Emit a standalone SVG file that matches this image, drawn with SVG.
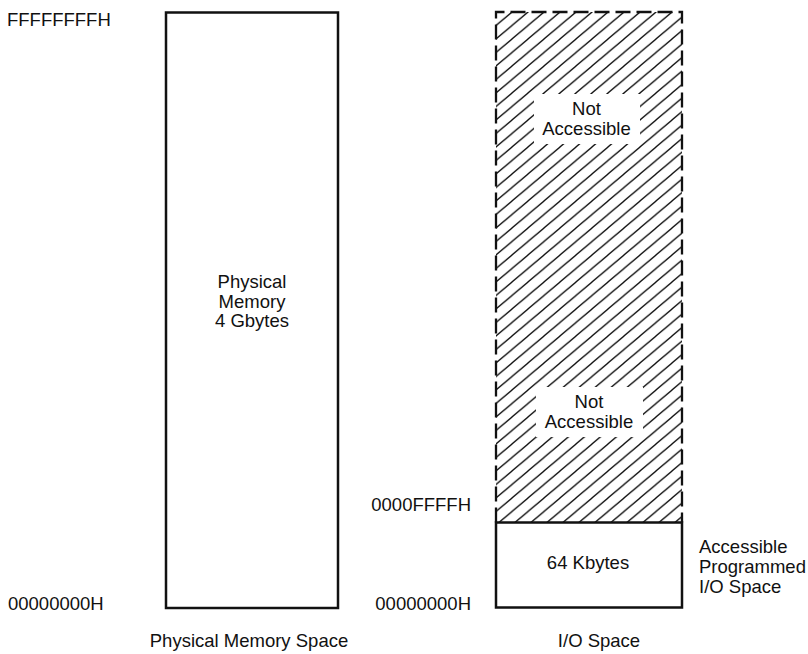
<svg xmlns="http://www.w3.org/2000/svg" width="808" height="654" viewBox="0 0 808 654">
<defs>
<pattern id="hatch" patternUnits="userSpaceOnUse" x="496" y="12" width="16" height="13.5">
<path d="M0,13.5 L16,0 M-4,3.375 L4,-3.375 M12,16.875 L20,10.125" stroke="#111" stroke-width="1.3" fill="none"/>
</pattern>
</defs>
<style>
text{font-family:"Liberation Sans",Arial,Helvetica,sans-serif;font-size:18.5px;fill:#111}
.c{text-anchor:middle}
.e{text-anchor:end}
.box{fill:#fff;stroke:#111;stroke-width:2.5}
.dash{fill:none;stroke:#111;stroke-width:2.3;stroke-dasharray:15 6}
</style>
<rect width="808" height="654" fill="#fff"/>
<g id="address-labels">
<text x="7" y="26">FFFFFFFFH</text>
<text x="8" y="610">00000000H</text>
<text class="e" x="471" y="511">0000FFFFH</text>
<text class="e" x="471" y="610">00000000H</text>
</g>
<g id="physical-memory">
<rect class="box" x="166" y="12.5" width="172" height="595.5"/>
<text class="c" x="252" y="288">Physical</text>
<text class="c" x="252" y="307.5">Memory</text>
<text class="c" x="252" y="327">4 Gbytes</text>
</g>
<g id="not-accessible">
<rect x="496" y="12" width="186" height="510.5" fill="url(#hatch)"/>
<rect x="534" y="94" width="106" height="50" fill="#fff"/>
<rect x="536" y="387" width="107" height="50" fill="#fff"/>
<path class="dash" d="M496,522.5 V12 H682 V522.5"/>
<text class="c" x="586.5" y="115">Not</text>
<text class="c" x="586.5" y="135">Accessible</text>
<text class="c" x="589" y="408">Not</text>
<text class="c" x="589" y="428">Accessible</text>
</g>
<g id="io-accessible">
<rect class="box" x="496" y="522.5" width="186" height="85"/>
<text class="c" x="588" y="569">64 Kbytes</text>
</g>
<g id="io-label">
<text x="699" y="553">Accessible</text>
<text x="699" y="573">Programmed</text>
<text x="699" y="593">I/O Space</text>
</g>
<g id="captions">
<text class="c" x="249" y="647">Physical Memory Space</text>
<text class="c" x="599" y="647">I/O Space</text>
</g>
<g id="connectors"></g>
</svg>
